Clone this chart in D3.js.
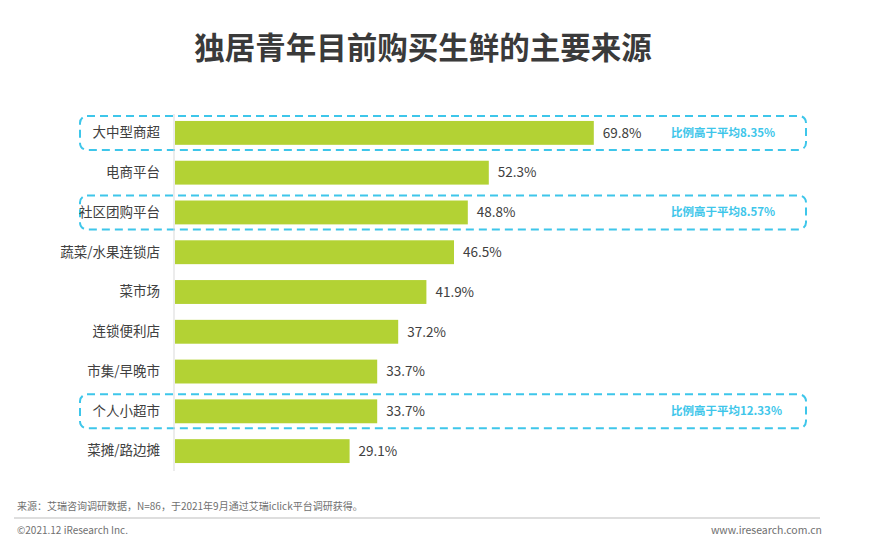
<!DOCTYPE html>
<html lang="zh">
<head>
<meta charset="UTF-8">
<title>独居青年目前购买生鲜的主要来源</title>
<script src="https://d3js.org/d3.v7.min.js"></script>
<style>
  body { margin: 0; background: #fff; }
  text { font-family: "Noto Sans CJK SC", "Noto Sans", sans-serif; }
</style>
</head>
<body>
<div id="chart"></div>
<script>
// data
const categories = ['大中型商超', '电商平台', '社区团购平台', '蔬菜/水果连锁店', '菜市场',
                    '连锁便利店', '市集/早晚市', '个人小超市', '菜摊/路边摊'];
const values = [69.8, 52.3, 48.8, 46.5, 41.9, 37.2, 33.7, 33.7, 29.1];

// rows that get a dashed highlight box and a note
const highlightCats = ['大中型商超', '社区团购平台', '个人小超市'];
const highlightNotes = ['比例高于平均8.35%', '比例高于平均8.57%', '比例高于平均12.33%'];

const width = 890, height = 552;
const x0 = 175;

const svg = d3.select('#chart').append('svg')
    .attr('width', width)
    .attr('height', height);

// title
svg.append('text')
    .attr('x', 423).attr('y', 59)
    .attr('text-anchor', 'middle')
    .style('font-size', '30.5px')
    .style('font-weight', 'bold')
    .style('fill', '#3a3a3a')
    .text('独居青年目前购买生鲜的主要来源');

const x = d3.scaleLinear().domain([0, 100]).range([x0, x0 + 600]);
const y = d3.scaleBand().domain(categories).range([113, 471]).paddingInner(0.4).paddingOuter(0.2);

// highlight boxes drawn first so bars sit over them
const hl = svg.append('g').selectAll('g')
    .data(highlightCats)
    .join('g');

hl.append('rect')
    .attr('x', 80)
    .attr('y', d => y(d) + y.bandwidth() / 2 - 17)
    .attr('width', 726)
    .attr('height', 34)
    .attr('rx', 7)
    .style('fill', 'none')
    .style('stroke', '#3ec6ea')
    .style('stroke-width', 2)
    .style('stroke-dasharray', '8,5');

hl.append('text')
    .attr('x', 671)
    .attr('y', d => y(d) + y.bandwidth() / 2)
    .attr('dy', '0.35em')
    .style('font-size', '11.5px')
    .style('font-weight', 'bold')
    .style('fill', '#3ec6ea')
    .text((d, i) => highlightNotes[i]);

// bars
svg.append('g').selectAll('rect')
    .data(values)
    .join('rect')
    .attr('x', x(0))
    .attr('y', (d, i) => y(categories[i]))
    .attr('width', d => x(d) - x(0))
    .attr('height', y.bandwidth())
    .style('fill', '#b3d234');

// value labels
svg.append('g').selectAll('text')
    .data(values)
    .join('text')
    .attr('x', d => x(d) + 9)
    .attr('y', (d, i) => y(categories[i]) + y.bandwidth() / 2)
    .attr('dy', '0.35em')
    .style('font-size', '13.5px')
    .style('fill', '#404040')
    .text(d => d.toFixed(1) + '%');

// category axis
const axis = svg.append('g')
    .attr('transform', `translate(${x0 - 1},0)`)
    .call(d3.axisLeft(y).tickSize(0).tickPadding(14));
axis.select('.domain').attr('d', 'M0,114V471').style('stroke', '#d9d9d9');
axis.selectAll('text')
    .style('font-size', '13.5px')
    .style('fill', '#404040')
    .style('font-family', '"Noto Sans CJK SC", sans-serif');

// footer
svg.append('text')
    .attr('x', 17).attr('y', 510)
    .style('font-size', '10px')
    .style('fill', '#707070')
    .text('来源：艾瑞咨询调研数据，N=86，于2021年9月通过艾瑞iclick平台调研获得。');

svg.append('line')
    .attr('x1', 14).attr('x2', 820)
    .attr('y1', 518).attr('y2', 518)
    .style('stroke', '#bdbdbd');

svg.append('text')
    .attr('x', 17).attr('y', 534)
    .style('font-size', '10px')
    .style('fill', '#707070')
    .text('©2021.12 iResearch Inc.');

svg.append('text')
    .attr('x', 822).attr('y', 534)
    .attr('text-anchor', 'end')
    .style('font-size', '10.5px')
    .style('fill', '#707070')
    .text('www.iresearch.com.cn');
</script>
</body>
</html>
